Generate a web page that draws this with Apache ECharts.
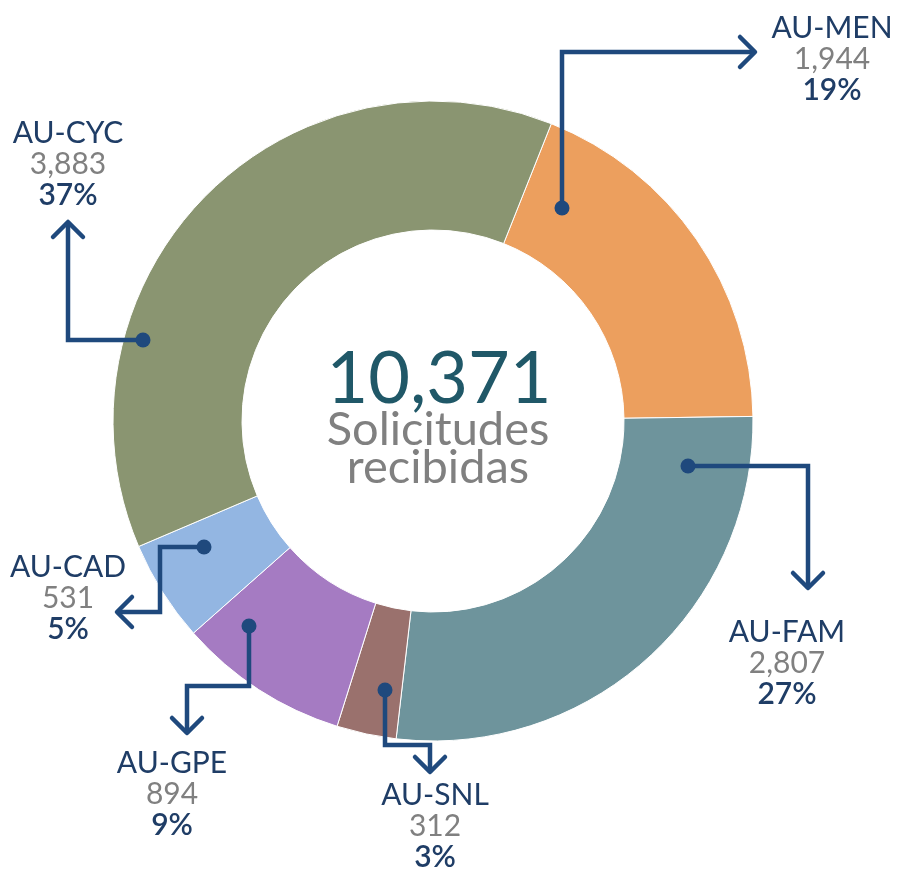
<html>
<head>
<meta charset="utf-8">
<script src="https://cdn.jsdelivr.net/npm/echarts@6/dist/echarts.min.js"></script>
</head>
<body>
<style>
    html, body, #main {
        width: 100%;
        height: 100%;
        margin: 0;
        background: #fff;
    }
</style>
<div id='main'></div>
<script>
// data
var categories = ['AU-MEN', 'AU-FAM', 'AU-SNL', 'AU-GPE', 'AU-CAD', 'AU-CYC'];
var values = [1944, 2807, 312, 894, 531, 3883];
var colors = ['#EC9F5E', '#6E949C', '#9A716D', '#A57BC2', '#93B6E2', '#8A9571'];

// where each label block sits (middle line centre) and its arrow path
var labelPos = [[832, 59], [787, 663], [435, 826], [172, 794], [68, 598], [68, 164]];
var arrowPaths = [
    [[562, 208], [562, 52], [755, 52]],
    [[688, 466], [808, 466], [808, 588]],
    [[385, 690], [385, 745], [430, 745], [430, 772]],
    [[249, 626], [249, 686], [187, 686], [187, 733]],
    [[204, 547], [160, 547], [160, 612], [117, 612]],
    [[143, 340], [68, 340], [68, 222]]
];
var arrowColor = '#1F497D';
var total = values.reduce(function (a, b) { return a + b; }, 0);

var dataOne = [];
for (var i = 0; i < categories.length; i++) {
    dataOne.push({name: categories[i], value: values[i], itemStyle: {color: colors[i]}});
}

function fmt(n) { return n.toLocaleString('en-US'); }

var graphics = [];
arrowPaths.forEach(function (p) {
    graphics.push({type: 'polyline', shape: {points: p}, z: 100,
        style: {stroke: arrowColor, lineWidth: 4.5, fill: null, lineJoin: 'miter'}});
    graphics.push({type: 'circle', shape: {cx: p[0][0], cy: p[0][1], r: 7.5}, z: 100,
        style: {fill: arrowColor}});
    // arrow head
    var a = p[p.length - 2], b = p[p.length - 1];
    var dx = b[0] - a[0], dy = b[1] - a[1];
    var len = Math.sqrt(dx * dx + dy * dy);
    dx /= len; dy /= len;
    var s = 15;
    graphics.push({type: 'polyline', z: 100,
        shape: {points: [
            [b[0] - s * dx + s * dy, b[1] - s * dy - s * dx],
            [b[0], b[1]],
            [b[0] - s * dx - s * dy, b[1] - s * dy + s * dx]
        ]},
        style: {stroke: arrowColor, lineWidth: 4.5, fill: null, lineCap: 'round', lineJoin: 'round'}});
});
graphics.push({type: 'text', x: 439, y: 380, z: 100,
    style: {text: fmt(total), font: '72px Lato', fill: '#205868', align: 'center', verticalAlign: 'middle'}});
graphics.push({type: 'text', x: 438, y: 430, z: 100,
    style: {text: 'Solicitudes', font: '47px Lato', fill: '#808080', align: 'center', verticalAlign: 'middle'}});
graphics.push({type: 'text', x: 438, y: 468, z: 100,
    style: {text: 'recibidas', font: '47px Lato', fill: '#808080', align: 'center', verticalAlign: 'middle'}});

var chart = echarts.init(document.getElementById('main'));
var option = {
    animation: false,
    graphic: graphics,
    series: [{
        type: 'pie',
        center: [433, 421],
        radius: [191, 320],
        startAngle: 68.3,
        clockwise: true,
        itemStyle: {borderColor: '#fff', borderWidth: 1},
        label: {
            show: true,
            overflow: 'none',
            formatter: function (p) {
                return '{n|' + p.name + '}\n{v|' + fmt(p.value) + '}\n{p|' + Math.round(p.percent) + '%}';
            },
            align: 'center',
            rich: {
                n: {fontFamily: 'Lato', fontSize: 30, color: '#1F3D66', lineHeight: 31},
                v: {fontFamily: 'Lato', fontSize: 30, color: '#808080', lineHeight: 31},
                p: {fontFamily: 'Lato', fontSize: 30, color: '#1F3D66', lineHeight: 31, fontWeight: 600}
            }
        },
        labelLine: {show: false},
        labelLayout: function (params) {
            var pos = labelPos[params.dataIndex];
            return {x: pos[0], y: pos[1], align: 'center', verticalAlign: 'middle'};
        },
        emphasis: {disabled: true},
        data: dataOne
    }]
};
chart.setOption(option);
window.onresize = chart.resize;
</script>
</body>
</html>
